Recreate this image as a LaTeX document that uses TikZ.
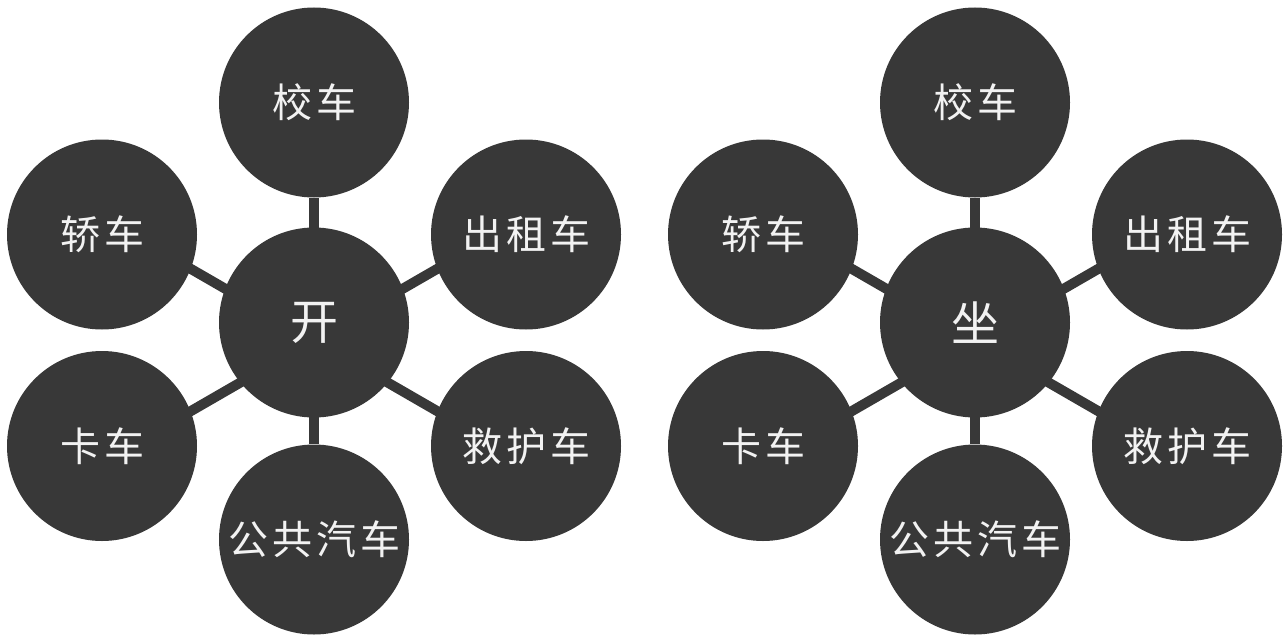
\documentclass[tikz,border=0pt]{standalone}
\usepackage{fontspec}
\newfontfamily\cjk[LetterSpace=10]{Noto Sans CJK SC}
\newfontfamily\cjkhub{Noto Sans CJK SC}
\usepackage{xcolor}
\definecolor{discFill}{HTML}{383838}
\definecolor{discText}{HTML}{F2F2F2}
\usetikzlibrary{backgrounds}

\begin{document}
\begin{tikzpicture}[
    x=0.75pt, y=-0.75pt,
    every node/.style={text=discText},
    hnode/.style={circle, fill=discFill, minimum size=142.5pt, inner sep=0pt,
                  font=\cjkhub\fontsize{36}{38}\selectfont},
    vnode/.style={circle, fill=discFill, minimum size=142.5pt, inner sep=0pt,
                  font=\cjk\fontsize{30}{32}\selectfont},
    spoke/.style={draw=discFill, line width=7.5pt}
]
\useasboundingbox (0,0) rectangle (1284,635);
% Left cluster: hub at center, six vehicles around it
\node[hnode] (K) at (314,322.5) {开};
\coordinate (KH) at (314,340);
\node[vnode] (K1) at (314,102.5) {校车};
\node[vnode] (K2) at (526,234.5) {出租车};
\node[vnode] (K3) at (526,446) {救护车};
\node[vnode] (K4) at (314,539.5) {公共汽车};
\node[vnode] (K5) at (102,446) {卡车};
\node[vnode] (K6) at (102,234.5) {轿车};
% Right cluster, same layout
\node[hnode] (Z) at (975,322.5) {坐};
\coordinate (ZH) at (975,340);
\node[vnode] (Z1) at (975,102.5) {校车};
\node[vnode] (Z2) at (1187,234.5) {出租车};
\node[vnode] (Z3) at (1187,446) {救护车};
\node[vnode] (Z4) at (975,539.5) {公共汽车};
\node[vnode] (Z5) at (763,446) {卡车};
\node[vnode] (Z6) at (763,234.5) {轿车};
% Spokes behind the discs
\begin{scope}[on background layer]
\path (KH) ++(-30:245) coordinate (K2e) (KH) ++(30:245) coordinate (K3e)
      (KH) ++(150:245) coordinate (K5e) (KH) ++(210:245) coordinate (K6e);
\draw[spoke] (KH) -- (K1);
\draw[spoke] (KH) -- (K4);
\draw[spoke] (KH) -- (K2e);
\draw[spoke] (KH) -- (K3e);
\draw[spoke] (KH) -- (K5e);
\draw[spoke] (KH) -- (K6e);
\path (ZH) ++(-30:245) coordinate (Z2e) (ZH) ++(30:245) coordinate (Z3e)
      (ZH) ++(150:245) coordinate (Z5e) (ZH) ++(210:245) coordinate (Z6e);
\draw[spoke] (ZH) -- (Z1);
\draw[spoke] (ZH) -- (Z4);
\draw[spoke] (ZH) -- (Z2e);
\draw[spoke] (ZH) -- (Z3e);
\draw[spoke] (ZH) -- (Z5e);
\draw[spoke] (ZH) -- (Z6e);
\end{scope}
\end{tikzpicture}
\end{document}
